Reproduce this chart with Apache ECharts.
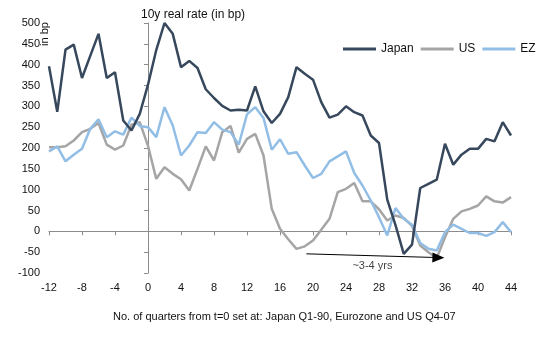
<!DOCTYPE html>
<html>
<head>
<meta charset="utf-8">
<script src="https://cdn.jsdelivr.net/npm/echarts@6/dist/echarts.min.js"></script>
<style>
html,body{margin:0;padding:0;background:#fff;}
#chart{width:550px;height:337px;}
</style>
</head>
<body>
<div id="chart"></div>
<script>
const quarters = [-12,-11,-10,-9,-8,-7,-6,-5,-4,-3,-2,-1,0,1,2,3,4,5,6,7,8,9,10,11,12,13,14,15,16,17,18,19,20,21,22,23,24,25,26,27,28,29,30,31,32,33,34,35,36,37,38,39,40,41,42,43,44];
const japan = [396,287,436,448,368,421,474,368,382,266,242,282,352,435,500,474,394,409,392,341,320,301,290,292,290,348,288,260,282,322,394,378,364,310,273,280,300,286,278,230,212,76,15,-54,-32,104,114,124,210,160,184,198,198,222,216,262,230];
const us = [202,202,204,218,238,246,260,208,196,206,256,262,205,126,154,138,125,98,150,204,170,238,253,189,222,234,182,54,6,-19,-42,-36,-22,4,30,94,102,116,72,72,53,26,38,32,13,-34,-50,-64,-14,30,48,54,62,84,72,69,82];
const ez = [192,204,168,184,198,246,269,226,240,232,273,253,250,226,298,254,182,206,238,236,262,244,238,208,281,298,272,196,221,186,190,158,128,138,168,180,192,140,110,74,34,-10,56,30,16,-28,-42,-46,-2,16,6,-4,-4,-11,-2,22,-2];
const seriesNames = ['Japan','US','EZ'];
const xTicks = {min:-12, max:44, interval:4};
const yTicks = {min:-100, max:500, interval:50};
const arrowFrom = [19.2, -54];
const arrowTo = [35.2, -63];
const arrowLabelAt = [27.2, -84];
const arrowLabel = '~3-4 yrs';

const colors = ['#37485d', '#a5a5a5', '#92bee6'];
const font = 'Liberation Sans, Arial, sans-serif';

const chart = echarts.init(document.getElementById('chart'), null, {renderer:'canvas'});
const mk = (vals) => quarters.map((q,i) => [q, vals[i]]);

chart.setOption({
  animation:false,
  color: colors,
  textStyle:{fontFamily:font},
  title:[
    {text:'10y real rate (in bp)', left:141, top:9, padding:0, textStyle:{fontSize:12, fontWeight:'normal', color:'#111', fontFamily:font}},
    {text:'No. of quarters from t=0 set at: Japan Q1-90, Eurozone and US Q4-07', left:113, top:311, padding:0, textStyle:{fontSize:11, fontWeight:'normal', color:'#111', fontFamily:font}}
  ],
  graphic:[
    {type:'text', x:45, y:34, rotation:Math.PI/2, style:{text:'in bp', fontSize:11, fill:'#111', fontFamily:font, textAlign:'center', textVerticalAlign:'middle'}}
  ],
  legend:{
    data:seriesNames, left:343, top:43, padding:0, icon:'rect', itemWidth:33, itemHeight:3, itemGap:7,
    textStyle:{fontSize:12, color:'#111', fontFamily:font}
  },
  grid:{left:49, right:39, top:23, bottom:64},
  xAxis:[
    {type:'value', min:xTicks.min, max:xTicks.max, interval:xTicks.interval, position:'bottom',
     axisLine:{show:false, onZero:false}, axisTick:{show:false}, splitLine:{show:false},
     axisLabel:{fontSize:11, color:'#111', margin:9, fontFamily:font}},
    {type:'value', min:xTicks.min, max:xTicks.max, interval:xTicks.interval, position:'bottom',
     axisLine:{show:true, onZero:true, lineStyle:{color:'#8c8c8c', width:1}},
     axisTick:{show:true, length:4, lineStyle:{color:'#8c8c8c'}}, splitLine:{show:false}, axisLabel:{show:false}}
  ],
  yAxis:[
    {type:'value', min:yTicks.min, max:yTicks.max, interval:yTicks.interval, position:'left',
     axisLine:{show:false, onZero:false}, axisTick:{show:false}, splitLine:{show:false},
     axisLabel:{fontSize:11, color:'#111', margin:9, fontFamily:font}},
    {type:'value', min:yTicks.min, max:yTicks.max, interval:yTicks.interval, position:'left',
     axisLine:{show:true, onZero:true, lineStyle:{color:'#8c8c8c', width:1}},
     axisTick:{show:true, length:4, lineStyle:{color:'#8c8c8c'}}, splitLine:{show:false}, axisLabel:{show:false}}
  ],
  series:[
    {name:'Japan', type:'line', data:mk(japan), showSymbol:false, symbol:'none', lineStyle:{width:2.5, color:colors[0]}, itemStyle:{color:colors[0]}, z:4},
    {name:'US', type:'line', data:mk(us), showSymbol:false, symbol:'none', lineStyle:{width:2.5, color:colors[1]}, itemStyle:{color:colors[1]}, z:2},
    {name:'EZ', type:'line', data:mk(ez), showSymbol:false, symbol:'none', lineStyle:{width:2.5, color:colors[2]}, itemStyle:{color:colors[2]}, z:3,
     markLine:{silent:true, symbol:['none','triangle'], symbolSize:[10,12],
       lineStyle:{color:'#000', width:1, type:'solid'}, label:{show:false},
       data:[[{coord:arrowFrom}, {coord:arrowTo}]]}},
    {name:'annot', type:'scatter', data:[arrowLabelAt], symbolSize:0, silent:true,
     label:{show:true, position:'inside', formatter:arrowLabel, fontSize:11, color:'#111', fontFamily:font}}
  ]
});
</script>
</body>
</html>
